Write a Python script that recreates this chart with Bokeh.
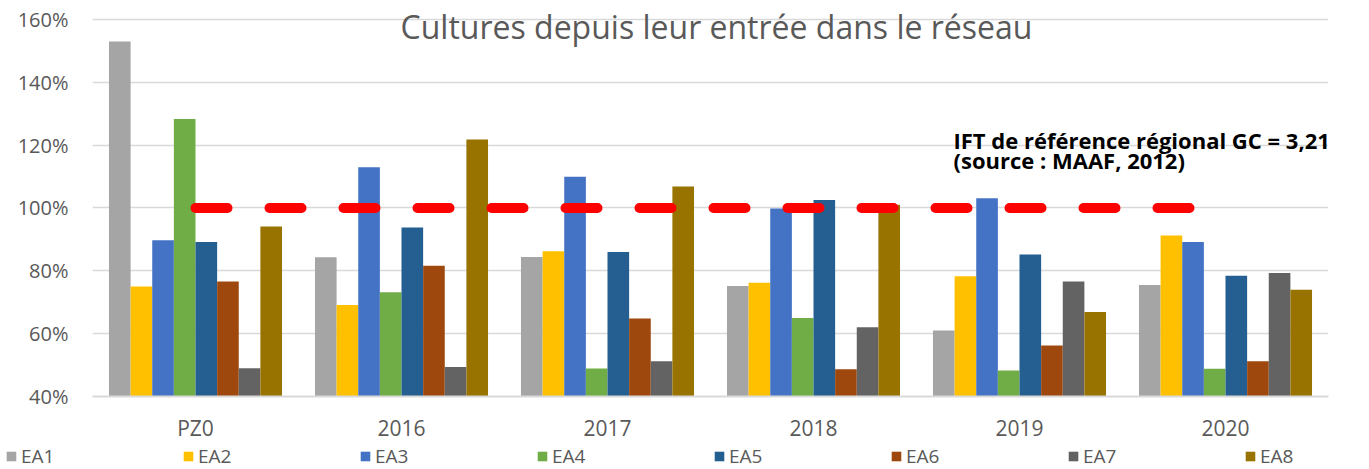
from bokeh.plotting import figure
from bokeh.models import (Range1d, FactorRange, FixedTicker, PrintfTickFormatter,
                          Label, Legend, LegendItem)
from bokeh.transform import dodge
from bokeh.embed import file_html
from bokeh.resources import INLINE

categories = ["PZ0", "2016", "2017", "2018", "2019", "2020"]
series_names = ["EA1", "EA2", "EA3", "EA4", "EA5", "EA6", "EA7", "EA8"]
EA1 = [153.0, 84.3, 84.4, 75.2, 61.0, 75.5]
EA2 = [75.0, 69.1, 86.2, 76.2, 78.3, 91.2]
EA3 = [89.7, 113.0, 109.9, 99.8, 103.1, 89.2]
EA4 = [128.3, 73.2, 48.9, 65.0, 48.3, 48.8]
EA5 = [89.2, 93.8, 86.0, 102.5, 85.2, 78.4]
EA6 = [76.6, 81.6, 64.8, 48.7, 56.2, 51.2]
EA7 = [49.0, 49.4, 51.2, 62.0, 76.6, 79.3]
EA8 = [94.1, 121.8, 106.8, 101.0, 66.9, 74.0]
reference_value = [100, 100]
reference_span = ["PZ0", "2020"]
y_ticks = [40, 60, 80, 100, 120, 140, 160]

title_text = "Cultures depuis leur entrée dans le réseau"
note_line1 = "IFT de référence régional GC = 3,21"
note_line2 = "(source : MAAF, 2012)"

colors = ["#A5A5A5", "#FFC000", "#4472C4", "#70AD47", "#255E91", "#9E480E", "#636363", "#997300"]
series = [EA1, EA2, EA3, EA4, EA5, EA6, EA7, EA8]

FONT = "Open Sans"
GREY = "#595959"

# plot area reaches the top edge so the title above the 160% line stays visible
p = figure(width=1369, height=444, x_range=FactorRange(*categories),
           y_range=Range1d(40, 166.03), output_backend="svg", toolbar_location=None,
           min_border_left=92, min_border_right=41, min_border_top=0, min_border_bottom=47)
p.outline_line_color = None
p.background_fill_color = "white"
p.border_fill_color = "white"

data = {"cat": categories}
for n, s in zip(series_names, series):
    data[n] = s

bw = 0.105
for i, (n, c) in enumerate(zip(series_names, colors)):
    off = (i - 3.5) * bw
    p.vbar(x=dodge("cat", off, range=p.x_range), top=n, bottom=40, width=bw,
           source=data, fill_color=c, line_color=None)

p.line(x=reference_span, y=reference_value, line_color="#FF0000", line_width=10,
       line_dash="32 42", line_cap="round")

# axes
p.yaxis.ticker = FixedTicker(ticks=y_ticks)
p.yaxis.formatter = PrintfTickFormatter(format="%d%%")
p.yaxis.axis_line_color = None
p.yaxis.major_tick_line_color = None
p.yaxis.minor_tick_line_color = None
p.yaxis.major_tick_out = 0
p.yaxis.major_label_standoff = 24
p.yaxis.major_label_text_font = FONT
p.yaxis.major_label_text_font_size = "20px"
p.yaxis.major_label_text_color = GREY

p.xaxis.axis_line_color = "#D9D9D9"
p.xaxis.axis_line_width = 2
p.xaxis.major_tick_line_color = None
p.xaxis.minor_tick_line_color = None
p.xaxis.major_tick_out = 0
p.xaxis.major_label_standoff = 17
p.xaxis.major_label_text_font = FONT
p.xaxis.major_label_text_font_size = "21px"
p.xaxis.major_label_text_color = GREY

p.xgrid.grid_line_color = None
p.ygrid.ticker = FixedTicker(ticks=y_ticks)
p.ygrid.grid_line_color = "#D9D9D9"
p.ygrid.grid_line_width = 1.5

# title and note inside plot
p.add_layout(Label(x=624, y=370, x_units="screen", y_units="screen", text=title_text,
                   text_font=FONT, text_font_size="32px", text_color=GREY,
                   text_align="center", text_baseline="alphabetic"))
p.add_layout(Label(x=861, y=257, x_units="screen", y_units="screen", text=note_line1,
                   text_font=FONT, text_font_size="22px", text_font_style="bold",
                   text_color="black", text_align="left", text_baseline="alphabetic"))
p.add_layout(Label(x=861, y=237, x_units="screen", y_units="screen", text=note_line2,
                   text_font=FONT, text_font_size="22px", text_font_style="bold",
                   text_color="black", text_align="left", text_baseline="alphabetic"))

# legend strip below the chart (separate root, so its frame spans the full width)
lg = figure(width=1369, height=25, x_range=Range1d(0, 1), y_range=Range1d(0, 1),
            x_axis_type=None, y_axis_type=None,
            output_backend="svg", toolbar_location=None,
            min_border_left=0, min_border_right=0, min_border_top=0, min_border_bottom=0)
lg.grid.visible = False
lg.outline_line_color = None
lg.background_fill_color = "white"
lg.border_fill_color = "white"
items = []
for n, c in zip(series_names, colors):
    # swatch holder for the legend, kept outside the visible range
    r = lg.vbar(x=[-5], top=[-5], bottom=[-6], width=0.1, fill_color=c, line_color=None)
    items.append(LegendItem(label=n, renderers=[r]))

legend = Legend(items=items, orientation="horizontal", location=(5, 0),
                glyph_width=12, glyph_height=12, label_standoff=4, label_width=148,
                spacing=13, padding=0, margin=0, border_line_color=None,
                background_fill_alpha=0, label_text_font=FONT,
                label_text_font_size="19px", label_text_color=GREY, label_height=20)
lg.add_layout(legend, "center")

open("out.html", "w").write(file_html([p, lg], INLINE))
